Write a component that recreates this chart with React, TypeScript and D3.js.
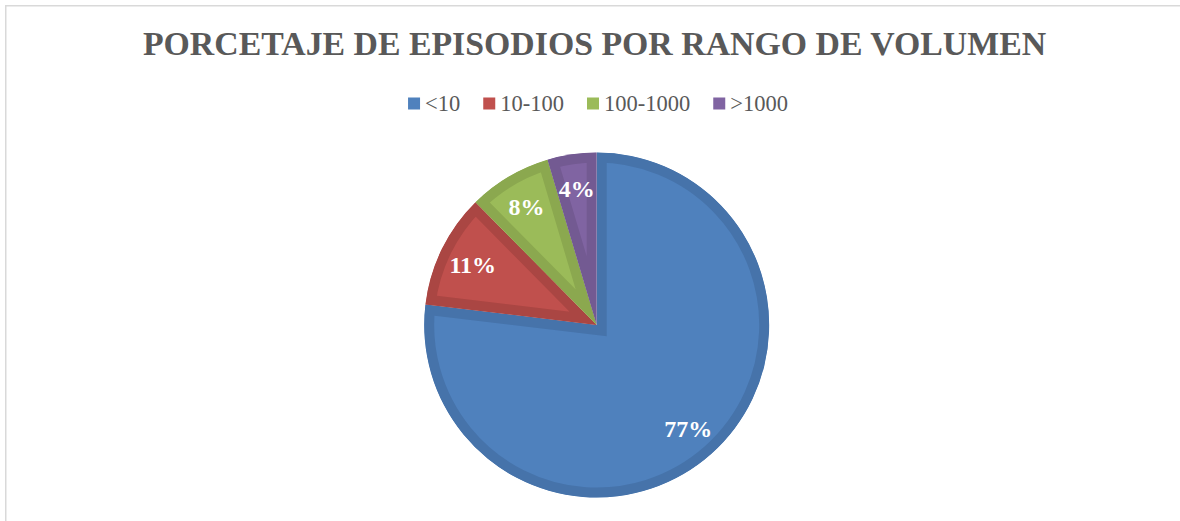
import * as React from 'react';
import * as d3 from 'd3';

const categories = ['<10', '10-100', '100-1000', '>1000'];
const shares = [76.9, 10.7, 7.8, 4.6];
const shareLabels = ['77%', '11%', '8%', '4%'];
const fillColors = ['#4F81BD', '#C0504D', '#9BBB59', '#8064A2'];
const bandColors = ['#4673AA', '#AA4643', '#8BA84F', '#735A92'];
const chartTitle = 'PORCETAJE DE EPISODIOS POR RANGO DE VOLUMEN';

type Slice = {name: string; value: number; label: string; index: number};

export default class App extends React.Component {
  private svgRef = React.createRef<SVGSVGElement>();

  public componentDidMount() {
    this.drawChart();
  }

  private drawChart = () => {
    const svgWidth = 1180;
    const svgHeight = 521;
    const cx = 596.7;
    const cy = 325;
    const radius = 172.5;
    const band = 10;

    const svg = d3
      .select(this.svgRef.current)
      .attr('width', svgWidth)
      .attr('height', svgHeight);
    svg.selectAll('*').remove();

    svg
      .append('rect')
      .attr('x', 5.75)
      .attr('y', 5.75)
      .attr('width', 1400)
      .attr('height', 800)
      .attr('fill', 'none')
      .attr('stroke', '#d9d9d9')
      .attr('stroke-width', 1.5);

    svg
      .append('text')
      .attr('x', 594.5)
      .attr('y', 55)
      .attr('text-anchor', 'middle')
      .attr('font-family', '"Liberation Serif", "Times New Roman", serif')
      .attr('font-weight', 'bold')
      .attr('font-size', 33.8)
      .attr('fill', '#595959')
      .text(chartTitle);

    const data: Slice[] = categories.map((name, i) => ({
      name,
      value: shares[i],
      label: shareLabels[i],
      index: i
    }));

    const pie = d3
      .pie<Slice>()
      .sort(null)
      .value(d => d.value)
      .startAngle(0)
      .endAngle(2 * Math.PI);
    const arc = d3.arc<d3.PieArcDatum<Slice>>().innerRadius(0).outerRadius(radius);
    const labelArc = d3
      .arc<d3.PieArcDatum<Slice>>()
      .innerRadius(radius * 0.8)
      .outerRadius(radius * 0.8);

    const arcs = pie(data);
    const defs = svg.append('defs');
    arcs.forEach((a, i) => {
      defs
        .append('clipPath')
        .attr('id', `slice-clip-${i}`)
        .append('path')
        .attr('d', arc(a) as string);
    });

    const g = svg.append('g').attr('transform', `translate(${cx}, ${cy})`);
    const slices = g.selectAll('g.slice').data(arcs).enter().append('g');
    slices
      .append('path')
      .attr('d', d => arc(d) as string)
      .attr('fill', d => fillColors[d.data.index])
      .attr('stroke', d => bandColors[d.data.index])
      .attr('stroke-width', band * 2)
      .attr('stroke-linejoin', 'miter')
      .attr('clip-path', d => `url(#slice-clip-${d.data.index})`);

    g.selectAll('text.lbl')
      .data(arcs)
      .enter()
      .append('text')
      .attr('transform', d => `translate(${labelArc.centroid(d)})`)
      .attr('text-anchor', 'middle')
      .attr('dy', '0.35em')
      .attr('font-family', '"Liberation Serif", "Times New Roman", serif')
      .attr('font-weight', 'bold')
      .attr('font-size', 24)
      .attr('fill', '#ffffff')
      .text(d => d.data.label);

    // legend, laid out from measured text widths
    const legend = svg.append('g');
    const sq = 12;
    const gapText = 5;
    const gapItem = 23;
    let x = 0;
    categories.forEach((name, i) => {
      const item = legend.append('g').attr('transform', `translate(${x}, 0)`);
      item
        .append('rect')
        .attr('x', 0)
        .attr('y', 97.5)
        .attr('width', sq)
        .attr('height', sq)
        .attr('fill', fillColors[i]);
      const t = item
        .append('text')
        .attr('x', sq + gapText)
        .attr('y', 111)
        .attr('font-family', '"Liberation Serif", "Times New Roman", serif')
        .attr('font-size', 22.5)
        .attr('fill', '#595959')
        .text(name);
      const w = (t.node() as SVGTextElement).getComputedTextLength();
      x += sq + gapText + w + gapItem;
    });
    const total = x - gapItem;
    legend.attr('transform', `translate(${598 - total / 2}, 0)`);
  };

  public render() {
    return (
      <div style={{position: 'absolute', left: 0, top: 0, width: 1180, height: 521, background: '#fff'}}>
        <svg ref={this.svgRef} style={{display: 'block'}} />
      </div>
    );
  }
}
